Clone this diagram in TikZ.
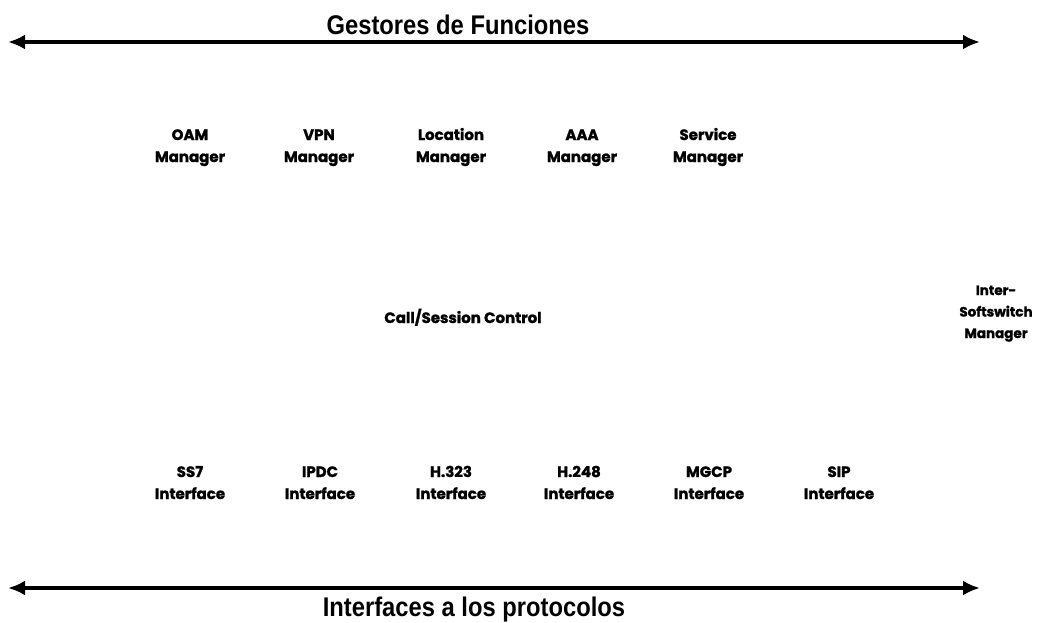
\documentclass[tikz,border=0pt]{standalone}
\usepackage{fontspec}
\usetikzlibrary{arrows.meta}
\newfontfamily\labelfont[BoldFeatures={FakeBold=1.5}]{Poppins}
\newfontfamily\titlefont[FakeStretch=0.88]{Liberation Sans}

\tikzset{
  modulo/.style={font=\labelfont\bfseries\fontsize{15}{22}\selectfont,align=center,inner sep=0pt,anchor=base},
  titulo/.style={font=\titlefont\bfseries\fontsize{27}{29}\selectfont,inner sep=0pt},
  flecha/.style={line width=4.5pt,{Latex[length=17pt,width=15pt]}-{Latex[length=17pt,width=15pt]}}
}

\begin{document}
\begin{tikzpicture}[x=1pt,y=-1pt]
                \useasboundingbox (0,0) rectangle (1038,623);

                % ===== Gestores de funciones =====
                \node[titulo] (gestores) at (458,25) {Gestores de Funciones};
                \coordinate (gIzq) at (8,42);
                \coordinate (gDer) at (980,42);
                \draw[flecha] (gIzq) -- (gDer);

                % ===== managers =====
                \node[modulo] (oam) at (190,162) {OAM\\Manager};
                \node[modulo] (vpn) at (319,162) {VPN\\Manager};
                \node[modulo] (loc) at (451,162) {Location\\Manager};
                \node[modulo] (aaa) at (582,162) {AAA\\Manager};
                \node[modulo] (serv) at (708,162) {Service\\Manager};

                % ===== control de llamada =====
                \node[modulo] (control) at (463,323) {Call/Session Control};
                \node[modulo,font=\labelfont\bfseries\fontsize{13.5}{21.5}\selectfont] (inter) at (996,338) {Inter-\\Softswitch\\Manager};

                % ===== interfaces =====
                \node[modulo] (ss7) at (190,499) {SS7\\Interface};
                \node[modulo] (ipdc) at (320,499) {IPDC\\Interface};
                \node[modulo] (h323) at (451,499) {H.323\\Interface};
                \node[modulo] (h248) at (579,499) {H.248\\Interface};
                \node[modulo] (mgcp) at (709,499) {MGCP\\Interface};
                \node[modulo] (sip) at (839,499) {SIP\\Interface};

                % ===== Interfaces a los protocolos =====
                \coordinate (iIzq) at (8,588);
                \coordinate (iDer) at (980,588);
                \draw[flecha] (iIzq) -- (iDer);
                \node[titulo] (protocolos) at (474,610) {Interfaces a los protocolos};

                \end{tikzpicture}
\end{document}
